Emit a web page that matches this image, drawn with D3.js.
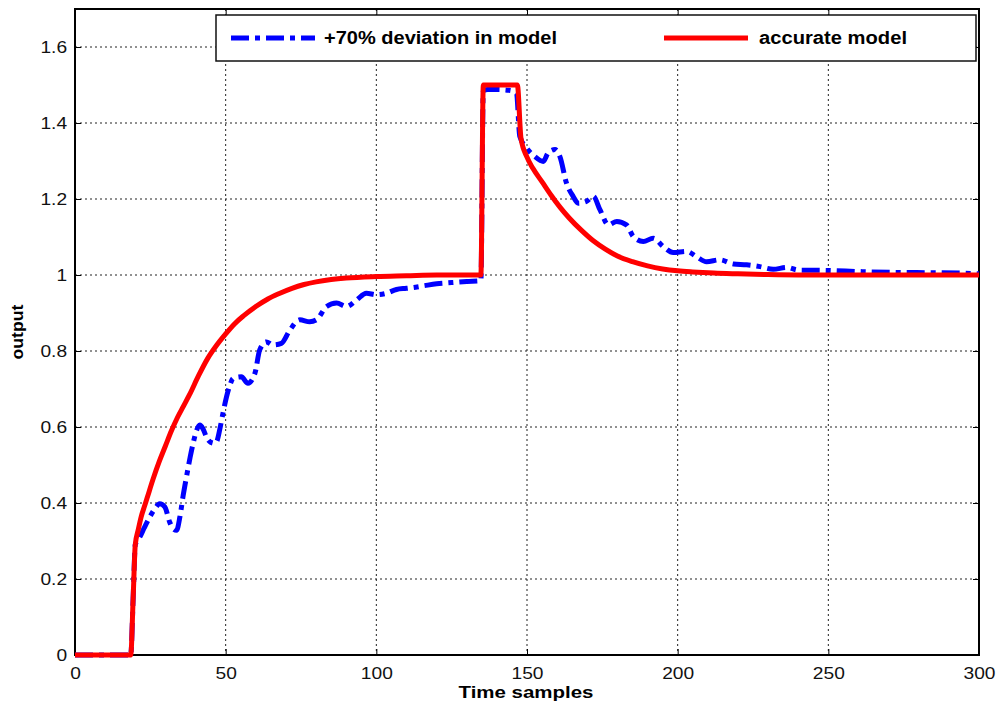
<!DOCTYPE html>
<html><head><meta charset="utf-8">
<script src="https://cdn.jsdelivr.net/npm/d3@7"></script>
<style>body{margin:0;background:#fff}svg{display:block}text{font-family:"Liberation Sans",Arial,sans-serif}</style>
</head><body><svg id="c" width="999" height="704"></svg>
<script>
const xTicks=[0,50,100,150,200,250,300];
const yTicks=[0,0.2,0.4,0.6,0.8,1,1.2,1.4,1.6];
const yTickLabels=["0","0.2","0.4","0.6","0.8","1","1.2","1.4","1.6"];
const seriesNames=["+70% deviation in model","accurate model"];
const devT=[0,18.5,19.3,20,21.5,23,24.8,26.5,28.1,29.8,31.4,32.5,33.7,34.8,35.9,37,38.2,39.2,40.3,41.4,42.5,43.6,45,46.4,47.2,48,49.2,50.3,51.4,52.5,55.2,57.4,59.7,61.3,63.5,65.7,68.5,71.3,74.6,77.9,80.1,83.5,86.8,90.1,93.4,96.7,100,103.4,106.7,110,113,116,120,125,130,134.7,135.5,137,140,144,146.5,147.6,149.9,152.6,155.4,157,159.3,160.9,163.1,165.3,167,169.8,172,174.2,177,179.8,183,185.3,188.6,191.9,195.2,198.5,203,206.3,209.6,214,218.5,222.9,227.3,231.7,236.2,240,249.5,260.5,271.5,283,293.7,300];
const devY=[0,0,0.15,0.29,0.31,0.335,0.363,0.385,0.398,0.39,0.35,0.333,0.328,0.363,0.42,0.469,0.52,0.557,0.59,0.605,0.595,0.574,0.56,0.557,0.565,0.592,0.64,0.68,0.71,0.728,0.732,0.715,0.741,0.803,0.824,0.816,0.82,0.855,0.882,0.877,0.882,0.917,0.926,0.917,0.934,0.952,0.948,0.952,0.962,0.965,0.968,0.972,0.977,0.98,0.983,0.985,1.485,1.488,1.488,1.486,1.48,1.365,1.334,1.312,1.299,1.321,1.33,1.312,1.242,1.207,1.189,1.194,1.207,1.172,1.132,1.141,1.132,1.101,1.088,1.097,1.075,1.059,1.062,1.048,1.035,1.04,1.029,1.027,1.022,1.015,1.02,1.013,1.012,1.009,1.007,1.006,1.005,1.003];
const accT=[0,18.5,19.3,20,21,22,23,24,26,28,30,32,34,36,38,41,44,47,50,53,56,60,64,68,72,76,80,85,90,100,110,120,134.7,135.5,146.8,148,150,152,155,158,161,164,168,172,176,180,185,190,195,200,205,212,220,230,240,300];
const accY=[0,0,0.15,0.29,0.33,0.365,0.39,0.415,0.465,0.51,0.55,0.59,0.625,0.655,0.685,0.735,0.78,0.815,0.845,0.872,0.893,0.917,0.937,0.952,0.965,0.975,0.982,0.988,0.992,0.996,0.998,1.0,1.0,1.5,1.5,1.36,1.31,1.28,1.245,1.21,1.178,1.15,1.118,1.09,1.068,1.05,1.035,1.024,1.016,1.011,1.008,1.005,1.003,1.001,1.0,1.0];

const svg=d3.select("#c");
const L=75,R=979,T=9,B=655;
const x=d3.scaleLinear().domain([0,300]).range([L,R]);
const y=d3.scaleLinear().domain([0,1.7]).range([B,T]);
const SX=1.13;

// grid
const g=svg.append("g");
g.selectAll(".gx").data(xTicks.slice(1,-1)).enter().append("line")
 .attr("x1",d=>x(d)).attr("x2",d=>x(d)).attr("y1",T).attr("y2",B)
 .attr("stroke","#222").attr("stroke-width",1).attr("stroke-dasharray","2,3");
g.selectAll(".gy").data(yTicks.slice(1)).enter().append("line")
 .attr("x1",L).attr("x2",R).attr("y1",d=>y(d)).attr("y2",d=>y(d))
 .attr("stroke","#222").attr("stroke-width",1).attr("stroke-dasharray","2,3");

// axes
const ax=svg.append("g").attr("transform",`translate(0,${B})`)
 .call(d3.axisBottom(x).tickValues(xTicks).tickSize(-6).tickPadding(12));
const ay=svg.append("g").attr("transform",`translate(${L},0)`)
 .call(d3.axisLeft(y).tickValues(yTicks).tickFormat((d,i)=>yTickLabels[i]).tickSize(-6).tickPadding(7));
const axT=svg.append("g").attr("transform",`translate(0,${T})`)
 .call(d3.axisTop(x).tickValues(xTicks).tickSize(-6).tickFormat(""));
const ayR=svg.append("g").attr("transform",`translate(${R},0)`)
 .call(d3.axisRight(y).tickValues(yTicks).tickSize(-6).tickFormat(""));
[ax,ay,axT,ayR].forEach(a=>{a.select(".domain").remove();a.selectAll("line").attr("stroke","#000");});
[ax,ay].forEach(a=>a.selectAll("text").attr("font-size",17).attr("fill","#111")
  .attr("font-family","'Liberation Sans',Arial,sans-serif").attr("transform",`scale(${SX},1)`));
svg.append("rect").attr("x",L).attr("y",T).attr("width",R-L).attr("height",B-T)
 .attr("fill","none").attr("stroke","#000").attr("stroke-width",2);

// lines
const line=d3.line().x(d=>x(d[0])).y(d=>y(d[1])).curve(d3.curveMonotoneX);
const dev=devT.map((t,i)=>[t,devY[i]]);
const acc=accT.map((t,i)=>[t,accY[i]]);
svg.append("path").datum(dev).attr("d",line).attr("fill","none").attr("stroke","#0000ff")
 .attr("stroke-width",5).attr("stroke-dasharray","18,6,5,6");
svg.append("path").datum(acc).attr("d",line).attr("fill","none").attr("stroke","#ff0000")
 .attr("stroke-width",5);

// legend
const lg=svg.append("g");
lg.append("rect").attr("x",216).attr("y",15).attr("width",760).attr("height",46)
 .attr("fill","#fff").attr("stroke","#111").attr("stroke-width",1.5);
lg.append("line").attr("x1",231).attr("x2",315).attr("y1",38).attr("y2",38)
 .attr("stroke","#0000ff").attr("stroke-width",5).attr("stroke-dasharray","18,6,5,6");
lg.append("text").attr("x",324).attr("y",44).attr("font-size",17.5).attr("font-weight","bold")
 .attr("textLength",233).attr("lengthAdjust","spacingAndGlyphs").text(seriesNames[0]);
lg.append("line").attr("x1",664).attr("x2",748).attr("y1",38).attr("y2",38)
 .attr("stroke","#ff0000").attr("stroke-width",5);
lg.append("text").attr("x",759).attr("y",44).attr("font-size",17.5).attr("font-weight","bold")
 .attr("textLength",148).attr("lengthAdjust","spacingAndGlyphs").text(seriesNames[1]);

// axis labels
svg.append("text").attr("x",526).attr("y",698).attr("text-anchor","middle").attr("font-size",17)
 .attr("font-weight","bold").attr("textLength",135).attr("lengthAdjust","spacingAndGlyphs").text("Time samples");
svg.append("text").attr("transform","translate(23,332) rotate(-90)").attr("text-anchor","middle")
 .attr("font-size",16).attr("font-weight","bold").attr("textLength",55).attr("lengthAdjust","spacingAndGlyphs").text("output");
</script></body></html>
